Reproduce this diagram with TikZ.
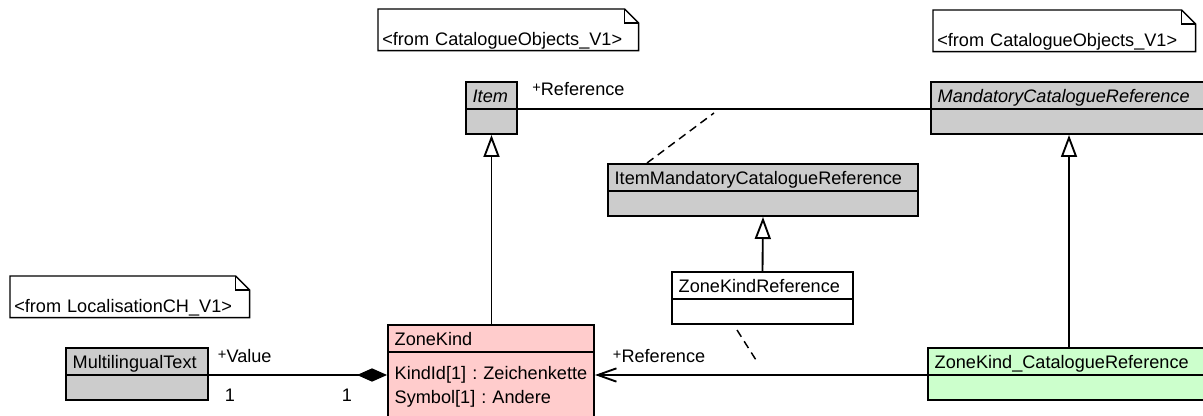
\documentclass[tikz,border=0pt]{standalone}
\usepackage{fontspec}
\setmainfont{Liberation Sans}
\frenchspacing
\usetikzlibrary{shapes.multipart,arrows.meta,calc}
\definecolor{umlgray}{RGB}{204,204,204}
\definecolor{umlpink}{RGB}{255,204,204}
\definecolor{umlgreen}{RGB}{204,255,204}
\tikzstyle{umlclass}=[rectangle split,rectangle split parts=2,draw,line width=1.5pt,fill=umlgray,inner xsep=5pt,inner ysep=0pt,align=left,anchor=north west,font=\fontsize{13.6}{18}\selectfont]
\tikzstyle{note}=[inner xsep=3pt,inner ysep=0pt,align=left,anchor=north west,font=\fontsize{13.6}{18}\selectfont]
\tikzstyle{generalization} = [draw,line width=1.4pt,-{Triangle[length=16.5pt,width=12pt,fill=white]}]
\tikzstyle{composition} = [draw,line width=1.4pt,-{Diamond[length=22.5pt,width=10pt]}]
\tikzstyle{navigable} = [draw,line width=1.4pt,-{Straight Barb[length=14pt,width=10pt]}]
\tikzstyle{assocclass} = [draw,line width=1.1pt,dash pattern=on 6pt off 4pt]
\tikzstyle{role} = [inner sep=0pt,font=\fontsize{13.6}{18}\selectfont]
\newcommand{\cname}[1]{\rule[-3.75pt]{0pt}{18.75pt}#1}
\newcommand{\cbody}{\rule{0pt}{17.25pt}}
\newcommand{\pub}{\raisebox{2.5pt}{\fontsize{11}{11}\selectfont+}}

\begin{document}
\begin{tikzpicture}[x=0.75pt,y=-0.75pt]
   \useasboundingbox (0,0) rectangle (1203,416);

    % notes with folded corner
    \foreach \pos/ \name/ \w/ \txt in {{(378,9)/noteA/189pt/{<from CatalogueObjects\_V1>}},{(933,10)/noteB/190.5pt/{<from CatalogueObjects\_V1>}},{(10,276)/noteC/173.25pt/{<from LocalisationCH\_V1>}}}
    {
        \node[note,text width=\w] (\name) at \pos {\rule[-3.75pt]{0pt}{30.75pt}\txt};
        \draw[line width=1.1pt] (\name.south west) -- (\name.north west) -- ($(\name.north east)+(-14,0)$) -- ($(\name.north east)+(0,14)$) -- (\name.south east) -- cycle;
        \draw[line width=1.1pt] ($(\name.north east)+(-14,0)$) |- ($(\name.north east)+(0,14)$);
    }

    % imported classes
    \foreach \pos/ \name/ \w/ \txt in {{(465,81)/item/28.25pt/{\textit{Item}}},{(930,81)/mcr/197pt/{\textit{MandatoryCatalogueReference}}},{(607,163)/imcr/222.5pt/{ItemMandatoryCatalogueReference}},{(65,347)/mt/96.5pt/{MultilingualText}}}
        \node[umlclass,text width=\w] (\name) at \pos {\cname{\txt}\nodepart{second}\cbody};

    \node[umlclass,fill=white,text width=125.75pt] (zkr) at (671,271) {\cname{ZoneKindReference}\nodepart{second}\cbody};
    \node[umlclass,fill=umlpink,text width=144.5pt] (zk) at (387,324) {\cname{ZoneKind}\nodepart{second}\rule{0pt}{20.25pt}\mbox{KindId[1] : Zeichenkette}\\\mbox{Symbol[1] : Andere}\rule[-40pt]{0pt}{0pt}};
    \node[umlclass,fill=umlgreen,text width=200pt] (zkcr) at (927,347) {\cname{ZoneKind\_CatalogueReference}\nodepart{second}\cbody};

    % generalizations
    \draw[generalization] (zk.north -| item.south) -- (item.south);
    \draw[generalization] (zkr.north) -- (imcr.south);
    \draw[generalization] (zkcr.north -| mcr.south) -- (mcr.south);

    % associations
    \draw[line width=1.4pt] (item.text split east) -- (mcr.text split west)
        node[role,pos=0,anchor=base west,xshift=10pt,yshift=9.75pt] (roleItem) {\pub Reference};
    \draw[composition] (mt.text split east) -- (mt.text split east -| zk.west)
        node[role,pos=0,anchor=base west,xshift=6pt,yshift=9pt] (roleValue) {\pub Value}
        node[role,pos=0,anchor=base west,xshift=11.25pt,yshift=-20.25pt] (multMT) {1}
        node[role,pos=1,anchor=base east,xshift=-25.5pt,yshift=-20.25pt] (multZK) {1};
    \draw[navigable] (zkcr.text split west) -- (zkcr.text split west -| zk.east)
        node[role,pos=1,anchor=base west,xshift=12.75pt,yshift=9pt] (roleZK) {\pub Reference};

    % association classes
    \coordinate (assocA) at (714,113);
    \coordinate (assocB) at (756,360);
    \draw[assocclass] ($(imcr.north west)+(40,0)$) -- (assocA);
    \draw[assocclass] ($(zkr.south west)+(66,5)$) -- (assocB);

\end{tikzpicture}
\end{document}
